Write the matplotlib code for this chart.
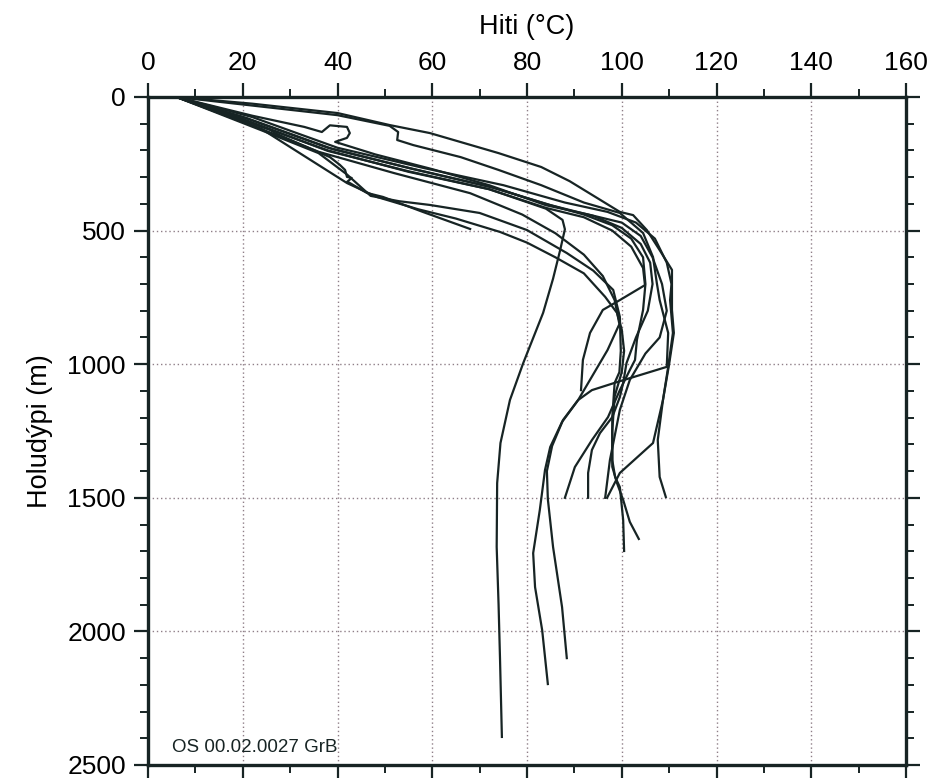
import matplotlib
matplotlib.use("Agg")
import matplotlib.pyplot as plt
from matplotlib.ticker import MultipleLocator

plt.rcParams["font.family"] = ["Liberation Sans", "DejaVu Sans"]

# Temperature (°C) / depth (m) logs for each well
w01_temp = [6, 20, 38, 55, 72, 84, 87.5, 88, 87, 85.5, 83.4, 79.2, 76.4, 74.4, 73.7, 73.6, 74, 74.3, 74.7]
w01_depth = [0, 85, 200, 280, 345, 418, 460, 495, 573, 680, 808, 996, 1134, 1295, 1445, 1684, 1900, 2100, 2395]

w02_temp = [6, 22, 40, 51, 59.5, 74, 83, 89, 95, 99.6, 102.4, 105.3, 108, 110.6, 110.6, 111, 110, 108.7, 107.6, 108, 109.3]
w02_depth = [0, 25, 60, 105, 135, 210, 262, 315, 380, 430, 442, 498, 573, 647, 797, 883, 1000, 1134, 1284, 1422, 1497]

w03_temp = [6, 22, 40, 51, 52.8, 52.6, 56, 66, 74, 83, 92, 99.6, 104.5, 106.6, 107.4, 108, 109.8, 109.5,
            99, 93.7, 90.8, 87.6, 85.3, 84.2, 84.4, 85.5, 87.4, 88.4]
w03_depth = [0, 32, 68, 108, 131, 161, 180, 225, 273, 330, 395, 434, 509, 599, 696, 760, 883, 1010,
             1067, 1097, 1134, 1209, 1306, 1400, 1505, 1684, 1909, 2100]

w04_temp = [6, 22, 33, 36.7, 38.4, 42, 42.6, 42, 39.5, 48, 60, 72, 84, 93, 100, 104, 106.5, 108.5, 109.5,
            108, 105, 101.7, 99.6, 97.5, 96.5]
w04_depth = [0, 70, 112, 131, 106, 112, 135, 153, 168, 215, 270, 330, 405, 440, 470, 520, 600, 700, 800,
             900, 960, 1059, 1171, 1359, 1500]

w05_temp = [6, 25.8, 26.8, 38.4, 40.5, 41.6, 42, 43, 42, 42.6, 46.2, 49.6, 58, 68]
w05_depth = [0, 123, 135, 225, 254, 273, 299, 303, 318, 322, 359, 374, 430, 494]

w06_temp = [6, 24, 36, 42, 47, 53, 59.5, 70, 80, 88.4, 94, 98.2, 99.6, 99.8, 99.5, 98.5, 98, 98, 98.6,
            99.6, 100.3, 100.5]
w06_depth = [0, 125, 210, 290, 370, 390, 404, 434, 498, 584, 650, 722, 823, 950, 1030, 1070, 1198, 1359,
             1422, 1460, 1583, 1699]

w07_temp = [6, 24, 42, 48.3, 57, 65, 74.3, 80, 86, 92, 96.5, 99, 100, 100.5, 100, 98.5, 98, 98, 99,
            100.3, 101.7, 103.6]
w07_depth = [0, 120, 322, 374, 420, 455, 505, 545, 600, 660, 748, 808, 870, 950, 1030, 1120, 1250, 1384,
             1445, 1508, 1590, 1654]

w08_temp = [6, 20, 38, 55, 72, 84, 92, 98, 102, 104.5, 105, 104.5, 103.2, 102.8, 101.7, 99.6, 97.1, 93.7,
            90.1, 88]
w08_depth = [0, 75, 190, 265, 335, 400, 440, 480, 530, 600, 700, 797, 909, 984, 1022, 1097, 1198, 1284,
             1385, 1500]

w09_temp = [6, 21, 39, 56, 73, 85, 94, 100, 104, 106, 106.5, 105.5, 103, 101, 100.3, 99.6, 98, 95.4,
            93.7, 92.9, 92.9]
w09_depth = [0, 80, 195, 270, 340, 405, 445, 490, 550, 620, 700, 800, 900, 996, 1070, 1123, 1198, 1258,
             1321, 1407, 1500]

w10_temp = [6, 22, 40, 58, 75, 88, 97, 103, 107, 109.5, 110.5, 110.2, 110.8, 109.8, 108.7, 106.6, 99.6, 96.9]
w10_depth = [0, 75, 190, 265, 330, 395, 430, 470, 530, 620, 700, 760, 883, 1010, 1134, 1295, 1407, 1500]

w11_temp = [6, 20, 38, 55, 72, 84, 92, 98, 102, 104.5, 104.9, 99.6, 96, 93.3, 91.8, 91.4]
w11_depth = [0, 82, 202, 278, 345, 415, 450, 500, 560, 640, 704, 760, 797, 883, 984, 1097]

w12_temp = [6, 19, 36, 52, 68, 79, 86, 92, 96, 98.5, 99.5, 97, 90.8, 87.4, 84.9, 83.8, 82.7, 81.3, 81.7,
            83.2, 84.4]
w12_depth = [0, 85, 205, 285, 360, 440, 510, 590, 670, 760, 850, 947, 1134, 1216, 1310, 1396, 1546, 1707,
             1834, 1995, 2197]

x_ticks = [0, 20, 40, 60, 80, 100, 120, 140, 160]
y_ticks = [0, 500, 1000, 1500, 2000, 2500]
x_label = "Hiti (°C)"
y_label = "Holudýpi (m)"
stamp = "OS 00.02.0027 GrB"

profiles = [
    (w01_temp, w01_depth), (w02_temp, w02_depth), (w03_temp, w03_depth),
    (w04_temp, w04_depth), (w05_temp, w05_depth), (w06_temp, w06_depth),
    (w07_temp, w07_depth), (w08_temp, w08_depth), (w09_temp, w09_depth),
    (w10_temp, w10_depth), (w11_temp, w11_depth), (w12_temp, w12_depth),
]

ink = "#172424"
fig = plt.figure(figsize=(9.31, 7.78), dpi=100)
ax = fig.add_axes([148 / 931, 1 - 765 / 778, 758 / 931, 668 / 778])

for temp, depth in profiles:
    ax.plot(temp, depth, color=ink, lw=1.6, solid_joinstyle="round", zorder=3)

ax.set_xlim(0, 160)
ax.set_ylim(2500, 0)
ax.set_xticks(x_ticks)
ax.set_yticks(y_ticks)
ax.xaxis.set_minor_locator(MultipleLocator(10))
ax.yaxis.set_minor_locator(MultipleLocator(100))

ax.xaxis.tick_top()
ax.xaxis.set_label_position("top")
ax.tick_params(axis="both", which="major", direction="out", length=10, width=1.6,
               color=ink, labelsize=19, pad=6, top=True, bottom=True, left=True, right=True,
               labeltop=True, labelbottom=False, labelleft=True, labelright=False)
ax.tick_params(axis="both", which="minor", direction="out", length=6, width=1.4,
               color=ink, top=True, bottom=True, left=True, right=True)

for s in ax.spines.values():
    s.set_linewidth(2.4)
    s.set_color(ink)

ax.grid(True, which="major", linestyle=(0, (1, 2)), color="#8f7f88", lw=1.0, zorder=1)

ax.set_xlabel(x_label, fontsize=19.5, labelpad=12)
ax.set_ylabel(y_label, fontsize=19.5, labelpad=10)

ax.text(0.032, 0.019, stamp, transform=ax.transAxes, fontsize=13.5, color=ink,
        ha="left", va="baseline")

fig.savefig("out.png", dpi=100)
